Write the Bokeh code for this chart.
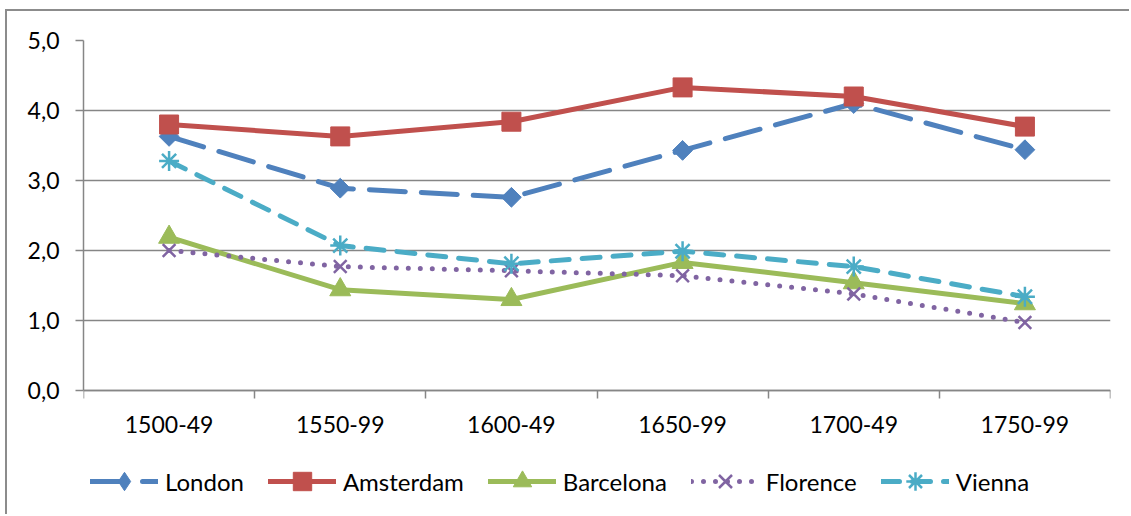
from bokeh.plotting import figure
from bokeh.models import (Legend, LegendItem, FixedTicker, CustomJSTickFormatter,
                          Range1d)
from bokeh.embed import file_html
from bokeh.resources import INLINE
import math

periods = ["1500-49", "1550-99", "1600-49", "1650-99", "1700-49", "1750-99"]
london = [3.63, 2.89, 2.76, 3.43, 4.10, 3.44]
amsterdam = [3.80, 3.63, 3.84, 4.33, 4.20, 3.77]
barcelona = [2.19, 1.44, 1.30, 1.83, 1.54, 1.24]
florence = [2.00, 1.77, 1.71, 1.64, 1.38, 0.97]
vienna = [3.28, 2.07, 1.81, 1.99, 1.77, 1.34]
y_ticks = [0, 1, 2, 3, 4, 5]

FONT = "Lato"
GRID = "#868686"

xs = [i + 0.5 for i in range(len(periods))]

# y range extends below 0 to leave room for the category labels and legend
p = figure(width=1124, height=505, x_range=Range1d(0, len(periods)),
           y_range=Range1d(-1.8, 5), output_backend="svg", toolbar_location=None,
           min_border_left=76, min_border_right=21, min_border_top=29,
           min_border_bottom=0, margin=(9, 0, 0, 5))
p.styles = {"border-top": "2px solid #8c8c8c", "border-left": "2px solid #8c8c8c"}
p.outline_line_color = None
p.background_fill_color = "white"
p.border_fill_color = "white"

p.xgrid.visible = False
p.ygrid.ticker = FixedTicker(ticks=y_ticks)
p.ygrid.grid_line_color = GRID
p.ygrid.grid_line_width = 1.5

xa = p.xaxis[0]
xa.fixed_location = 0
xa.ticker = FixedTicker(ticks=xs, minor_ticks=list(range(len(periods) + 1)))
xa.major_label_overrides = {x: lab for x, lab in zip(xs, periods)}
xa.major_tick_out = 0
xa.major_tick_in = 0
xa.minor_tick_out = 8
xa.minor_tick_in = 0
xa.minor_tick_line_color = GRID
xa.minor_tick_line_width = 1.5
xa.axis_line_color = GRID
xa.axis_line_width = 1.5
xa.major_label_standoff = 17
xa.major_label_text_font = FONT
xa.major_label_text_font_size = "23px"
xa.major_label_text_color = "black"

ya = p.yaxis[0]
ya.ticker = FixedTicker(ticks=y_ticks)
ya.bounds = (min(y_ticks), max(y_ticks))
ya.formatter = CustomJSTickFormatter(code="return tick.toFixed(1).replace('.', ',');")
ya.major_tick_out = 8
ya.major_tick_in = 0
ya.minor_tick_out = 0
ya.minor_tick_in = 0
ya.major_tick_line_color = GRID
ya.major_tick_line_width = 1.5
ya.axis_line_color = GRID
ya.axis_line_width = 1.5
ya.major_label_standoff = 16
ya.major_label_text_font = FONT
ya.major_label_text_font_size = "23px"
ya.major_label_text_color = "black"

series = [
    ("London", london, "#4F81BD", "36 16", "square", 14, 1, math.pi / 4, "diamond"),
    ("Amsterdam", amsterdam, "#C0504D", "solid", "square", 19, 1, 0, None),
    ("Barcelona", barcelona, "#9BBB59", "solid", "triangle", 21, 1, 0, None),
    ("Florence", florence, "#8064A2", "0 12", "x", 18, 2.5, 0, None),
    ("Vienna", vienna, "#4BACC6", "18 13", "asterisk", 20, 2.5, 0, None),
]

items = []
for name, vals, color, dash, marker, size, mlw, ang, leg_marker in series:
    ln = p.line(xs, vals, line_color=color, line_width=5, line_dash=dash,
                line_cap="round", line_join="round")
    fill = color if marker in ("square", "triangle") else None
    sc = p.scatter(xs, vals, marker=marker, size=size, angle=ang,
                   line_color=color, fill_color=fill, line_width=mlw)
    rs = [ln, sc]
    if leg_marker is not None:
        # legend-only marker (legend glyphs are drawn unrotated); NaN point is not drawn
        lm = p.scatter(x=[float("nan")], y=[float("nan")], marker=leg_marker,
                       size=size, line_color=color, fill_color=color)
        rs = [ln, lm]
    items.append(LegendItem(label=name, renderers=rs))

legend = Legend(items=items, orientation="horizontal", location=(7, 12),
                border_line_color=None, background_fill_alpha=0,
                label_text_font=FONT, label_text_font_size="24px",
                label_text_color="black", glyph_width=68, glyph_height=46,
                label_standoff=7, spacing=24, padding=0, margin=0)
p.add_layout(legend, "center")

open("out.html", "w").write(file_html(p, INLINE))
